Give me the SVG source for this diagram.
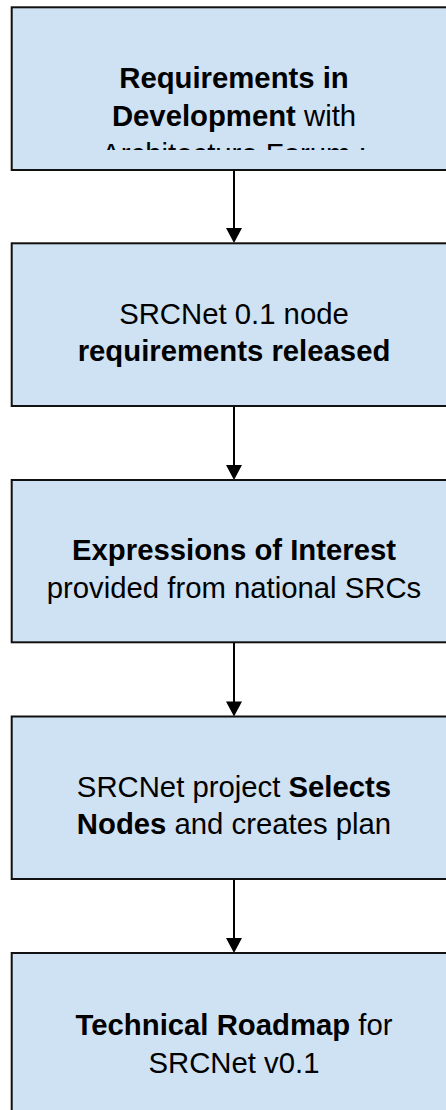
<svg xmlns="http://www.w3.org/2000/svg" width="446" height="1110" viewBox="0 0 446 1110">
<style>
.box{fill:#cfe2f3;stroke:#111;stroke-width:2}
.t{font-family:"Liberation Sans",Arial,sans-serif;font-size:29.3px;fill:#000;text-anchor:middle}
.b{font-weight:bold}
.conn{stroke:#000;stroke-width:2;fill:none}
</style>
<defs>
<marker id="arr" markerWidth="16" markerHeight="15" refX="8" refY="15" orient="auto" markerUnits="userSpaceOnUse" viewBox="0 0 16 15">
<path d="M0,0 L16,0 L8,15 Z" fill="#000" transform="rotate(-90 8 7.5) translate(0.5 0)"/>
</marker>
<clipPath id="clip1"><rect x="12" y="8" width="440" height="142"/></clipPath>
</defs>
<g id="connectors">
<line class="conn" x1="234" y1="170" x2="234" y2="229"/>
<path d="M226,228 L242,228 L234,243 Z" fill="#000"/>
<line class="conn" x1="234" y1="406" x2="234" y2="466"/>
<path d="M226,465 L242,465 L234,480 Z" fill="#000"/>
<line class="conn" x1="234" y1="642" x2="234" y2="702"/>
<path d="M226,701.5 L242,701.5 L234,716.5 Z" fill="#000"/>
<line class="conn" x1="234" y1="879" x2="234" y2="939"/>
<path d="M226,938 L242,938 L234,953 Z" fill="#000"/>
</g>
<g id="node1">
<rect class="box" x="11.7" y="7.3" width="444.6" height="162.7"/>
<g clip-path="url(#clip1)">
<text class="t" x="234" y="87.5"><tspan class="b">Requirements in</tspan></text>
<text class="t" x="234" y="125.5"><tspan class="b">Development</tspan> with</text>
<text class="t" x="234" y="164">Architecture Forum :</text>
</g>
</g>
<g id="node2">
<rect class="box" x="11.7" y="243.3" width="444.6" height="162.7"/>
<text class="t" x="234" y="323.5">SRCNet 0.1 node</text>
<text class="t" x="234" y="361.3"><tspan class="b">requirements released</tspan></text>
</g>
<g id="node3">
<rect class="box" x="11.7" y="480" width="444.6" height="162.3"/>
<text class="t" x="234" y="559.5"><tspan class="b">Expressions of Interest</tspan></text>
<text class="t" x="234" y="597.5">provided from national SRCs</text>
</g>
<g id="node4">
<rect class="box" x="11.7" y="716.5" width="444.6" height="162.5"/>
<text class="t" x="234" y="796.7">SRCNet project <tspan class="b">Selects</tspan></text>
<text class="t" x="234" y="834.3"><tspan class="b">Nodes</tspan> and creates plan</text>
</g>
<g id="node5">
<rect class="box" x="11.7" y="953" width="444.6" height="170"/>
<text class="t" x="234" y="1035"><tspan class="b">Technical Roadmap</tspan> for</text>
<text class="t" x="234" y="1072.7">SRCNet v0.1</text>
</g>
</svg>
